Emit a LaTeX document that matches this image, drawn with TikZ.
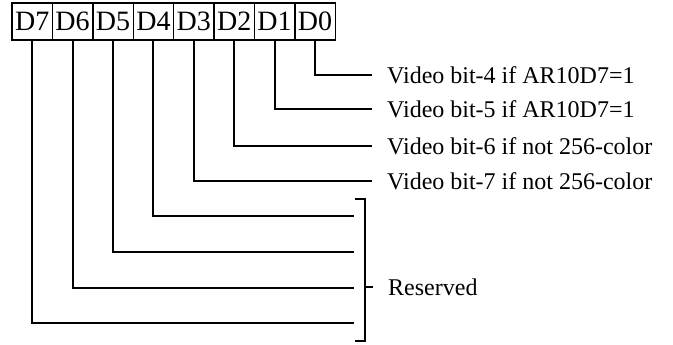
\documentclass[tikz,border=0pt]{standalone}
\usepackage{fontspec}
\setmainfont{Liberation Serif}
\begin{document}
\begin{tikzpicture}[x=1pt,y=-1pt,
  bitbox/.style={draw,line width=1.4pt,minimum width=40.4pt,minimum height=37pt,inner sep=0pt,font=\fontsize{28}{28}\selectfont},
  lbl/.style={anchor=west,inner sep=0pt,font=\fontsize{24}{26}\selectfont},
  wire/.style={line width=2pt}]
\useasboundingbox (0,0) rectangle (673,345);
\foreach \i in {0,...,7}{
  \pgfmathsetmacro{\cx}{12+40.4*(7-\i)+20.2}
  \node[bitbox] (b\i) at (\cx,21.5) {D\i};
}
% endpoints
\coordinate (e0) at (372,75);
\coordinate (e1) at (372,109);
\coordinate (e2) at (372,146);
\coordinate (e3) at (372,181);
\coordinate (e4) at (354,216);
\coordinate (e5) at (354,252);
\coordinate (e6) at (354,288);
\coordinate (e7) at (354,323);
\foreach \i in {0,...,7}{
  \draw[wire] (b\i.south) |- (e\i);
}
\node[lbl] (l0) at (387,75) {Video bit-4 if AR10D7=1};
\node[lbl] (l1) at (387,109) {Video bit-5 if AR10D7=1};
\node[lbl] (l2) at (387,146) {Video bit-6 if not 256-color};
\node[lbl] (l3) at (387,181) {Video bit-7 if not 256-color};
% bracket
\coordinate (bt) at (355,199);
\coordinate (bb) at (355,341);
\coordinate (bm) at (365,287);
\coordinate (bmt) at (373,287);
\draw[wire] (bt) -| (365,341) -- (bb);
\draw[wire] (bm) -- (bmt);
\node[lbl] (res) at (388,287) {Reserved};
\end{tikzpicture}
\end{document}
